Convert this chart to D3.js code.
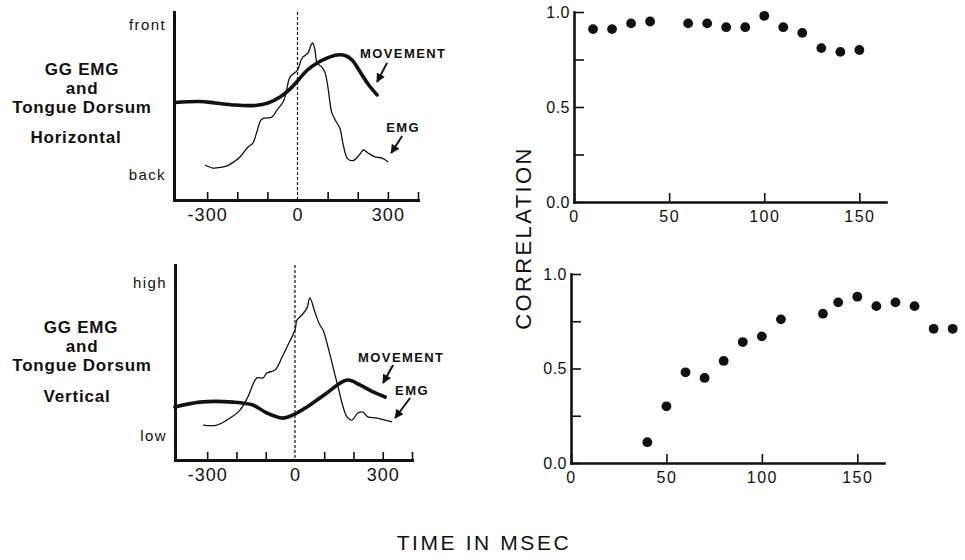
<!DOCTYPE html>
<html lang="en">
<head>
<meta charset="utf-8">
<title>GG EMG and Tongue Dorsum</title>
<script src="https://cdnjs.cloudflare.com/ajax/libs/d3/7.8.5/d3.min.js"></script>
<style>
  body { margin: 0; background: #fff; }
  svg { display: block; font-family: "Liberation Sans", Arial, sans-serif; }
</style>
</head>
<body>
<script>
// ---- data ----
// traces: [time in ms, relative level 0..100]
const horizMovement = [[-407,51.9],[-324,52.4],[-274,51.6],[-208,50.5],[-141,50.3],[-98,51.6],
  [-58,54.8],[-25,59],[0,63.3],[32,69],[65,72.9],[98,75.5],[131,77.1],[158,76.9],[181,74.5],
  [208,68.1],[234,61.7],[264,55.9]];
const horizEmg = [[-307,18.6],[-281,17],[-257,17.3],[-234,18.1],[-208,20.7],[-191,22.9],[-164,28.2],
  [-148,30.3],[-135,36.2],[-121,42.6],[-108,43.6],[-85,44.1],[-68,47.9],[-48,52.1],[-38,56.9],
  [-25,65.4],[0,69.1],[15,75.5],[35,78.2],[45,82.4],[51,83.5],[58,79.8],[65,72.9],[81,70.7],
  [91,68],[101,60],[113,47],[125,42.6],[141,38],[151,30],[166,22],[185,21],[208,24.5],[218,26.6],
  [234,25],[257,22.9],[281,22.3],[301,20.2]];
const vertMovement = [[-410,27.2],[-325,29.7],[-212,29.7],[-144,28.2],[-96,24.1],[-44,21.5],[-7,23.1],
  [41,27.2],[109,34.4],[178,41],[222,38.5],[267,34.9],[308,32.3]];
const vertEmg = [[-314,17.9],[-267,17.9],[-222,21.5],[-188,25.6],[-161,32.3],[-130,42.1],[-109,42.1],
  [-96,44.6],[-68,46.2],[-44,52.8],[-24,59],[0,66.7],[7,71.8],[24,74.4],[41,77.9],[51,83.1],
  [68,75.9],[85,69.2],[96,66.7],[113,57.9],[144,39.5],[178,22.1],[195,20.5],[215,24.1],[232,24.6],
  [249,22.1],[280,21.5],[332,19.5]];

const timeTicks = [-300, -200, -100, 0, 100, 200, 300, 400];
const timeLabels = [-300, 0, 300];

// correlation vs lag (ms)
const horizLag  = [10, 20, 30, 40, 60, 70, 80, 90, 100, 110, 120, 130, 140, 150];
const horizCorr = [0.91, 0.91, 0.94, 0.95, 0.94, 0.94, 0.92, 0.92, 0.98, 0.92, 0.89, 0.81, 0.79, 0.80];
const vertLag   = [40, 50, 60, 70, 80, 90, 100, 110, 132, 140, 150, 160, 170, 180, 190, 200];
const vertCorr  = [0.11, 0.30, 0.48, 0.45, 0.54, 0.64, 0.67, 0.76, 0.79, 0.85, 0.88, 0.83, 0.85, 0.83, 0.71, 0.71];

const lagTicks  = [0, 50, 100, 150];
const corrTicks = [0, 0.25, 0.5, 0.75, 1];

// ---- drawing ----
const W = 965, H = 560, ink = "#111";
const svg = d3.select("body").append("svg").attr("width", W).attr("height", H);
svg.append("rect").attr("width", W).attr("height", H).attr("fill", "#fff");

svg.append("defs").append("marker")
  .attr("id", "head").attr("viewBox", "0 0 10 10")
  .attr("refX", 9).attr("refY", 5)
  .attr("markerWidth", 11).attr("markerHeight", 9)
  .attr("markerUnits", "userSpaceOnUse").attr("orient", "auto")
  .append("path").attr("d", "M0,0 L10,5 L0,10 Z").attr("fill", ink);

function styleAxis(sel, domainW, size, spacing) {
  sel.select(".domain").attr("stroke", ink).attr("stroke-width", domainW).attr("stroke-linecap", "square");
  sel.selectAll(".tick line").attr("stroke", ink).attr("stroke-width", 1.6);
  sel.selectAll(".tick text").attr("fill", ink).attr("font-size", size).attr("letter-spacing", spacing);
}

function tracePanel(p) {
  const x = d3.scaleLinear().domain([-410, 400]).range(p.xr);
  const y = d3.scaleLinear().domain([0, 100]).range(p.yr);
  const g = svg.append("g");

  const xa = g.append("g").attr("transform", `translate(0,${p.yr[0]})`)
    .call(d3.axisBottom(x).tickValues(timeTicks).tickSizeInner(-8).tickSizeOuter(0).tickPadding(8)
      .tickFormat(d => timeLabels.includes(d) ? String(d) : ""));
  styleAxis(xa, 3, "18px", "1px");
  xa.selectAll(".tick").filter(d => d === 0).select("line").remove();

  const ya = g.append("g").attr("transform", `translate(${p.xr[0]},0)`)
    .call(d3.axisLeft(y).tickValues(p.yTicks).tickFormat((d, i) => p.yNames[i])
      .tickSize(0).tickPadding(8));
  styleAxis(ya, 3, "15px", "1.4px");

  g.append("line")
    .attr("x1", x(0)).attr("x2", x(0)).attr("y1", p.yr[1]).attr("y2", p.yr[0])
    .attr("stroke", ink).attr("stroke-width", 1.2).attr("stroke-dasharray", "3,2");

  const line = d3.line().x(d => x(d[0])).y(d => y(d[1])).curve(d3.curveCatmullRom.alpha(0.5));
  g.append("path").datum(p.emg).attr("d", line)
    .attr("fill", "none").attr("stroke", ink).attr("stroke-width", 1.3);
  g.append("path").datum(p.movement).attr("d", line)
    .attr("fill", "none").attr("stroke", ink).attr("stroke-width", 3.6).attr("stroke-linecap", "round");

  // labels with arrows, placed relative to the end of each trace
  p.notes.forEach(n => {
    const last = n.series[n.series.length - 1];
    const ex = x(last[0]), ey = y(last[1]);
    g.append("line")
      .attr("x1", ex + n.tail[0]).attr("y1", ey + n.tail[1])
      .attr("x2", ex + n.tip[0]).attr("y2", ey + n.tip[1])
      .attr("stroke", ink).attr("stroke-width", 2).attr("marker-end", "url(#head)");
    g.append("text")
      .attr("x", ex + n.label[0]).attr("y", ey + n.label[1])
      .attr("font-size", "13px").attr("font-weight", "bold").attr("letter-spacing", "1.4px")
      .attr("fill", ink).text(n.text);
  });

  const t = g.append("g").attr("font-size", "17px").attr("font-weight", "bold")
    .attr("letter-spacing", "0.8px").attr("fill", ink).attr("text-anchor", "middle");
  p.title.forEach(l => t.append("text").attr("x", l[1]).attr("y", l[2]).text(l[0]));
}

function corrPanel(p) {
  const x = d3.scaleLinear().domain([0, 164]).range(p.xr);
  const y = d3.scaleLinear().domain([0, 1]).range(p.yr);
  const g = svg.append("g");

  const xa = g.append("g").attr("transform", `translate(0,${p.yr[0]})`)
    .call(d3.axisBottom(x).tickValues(lagTicks).tickSizeInner(-9).tickSizeOuter(0).tickPadding(9)
      .tickFormat(d3.format("d")));
  styleAxis(xa, 2.6, "16px", "1.5px");

  const ya = g.append("g").attr("transform", `translate(${p.xr[0]},0)`)
    .call(d3.axisLeft(y).tickValues(corrTicks).tickSizeInner(-10).tickSizeOuter(0).tickPadding(4)
      .tickFormat(d => (d * 2) % 1 === 0 ? d.toFixed(1) : ""));
  styleAxis(ya, 2.6, "16px", "0.5px");

  g.selectAll("circle").data(p.lag).join("circle")
    .attr("cx", d => x(d)).attr("cy", (d, i) => y(p.corr[i]))
    .attr("r", 4.9).attr("fill", ink);
}

tracePanel({
  xr: [174, 418], yr: [200, 12],
  movement: horizMovement, emg: horizEmg,
  yTicks: [13.3, 93], yNames: ["back", "front"],
  notes: [
    { text: "MOVEMENT", series: horizMovement, tip: [0, -13], tail: [10, -32], label: [-17, -37] },
    { text: "EMG", series: horizEmg, tip: [3, -9], tail: [14, -26], label: [-2, -30] }
  ],
  title: [["GG EMG", 82, 75], ["and", 82, 94], ["Tongue Dorsum", 82, 113], ["Horizontal", 76, 143]]
});

tracePanel({
  xr: [175, 412], yr: [460, 265],
  movement: vertMovement, emg: vertEmg,
  yTicks: [12.3, 91], yNames: ["low", "high"],
  notes: [
    { text: "MOVEMENT", series: vertMovement, tip: [-2, -14], tail: [8, -32], label: [-27, -35] },
    { text: "EMG", series: vertEmg, tip: [3, -4], tail: [18, -24], label: [3, -27] }
  ],
  title: [["GG EMG", 81, 333], ["and", 82, 352], ["Tongue Dorsum", 82, 371], ["Vertical", 77, 402]]
});

corrPanel({ xr: [574, 886], yr: [202, 12], lag: horizLag, corr: horizCorr });
corrPanel({ xr: [571, 884], yr: [463, 274], lag: vertLag, corr: vertCorr });

svg.append("text")
  .attr("transform", "translate(531,238) rotate(-90)")
  .attr("text-anchor", "middle").attr("font-size", "22px").attr("letter-spacing", "2.4px")
  .attr("fill", ink).text("CORRELATION");

svg.append("text")
  .attr("x", 484).attr("y", 550)
  .attr("text-anchor", "middle").attr("font-size", "21px").attr("letter-spacing", "2.6px")
  .attr("fill", ink).text("TIME IN MSEC");
</script>
</body>
</html>
